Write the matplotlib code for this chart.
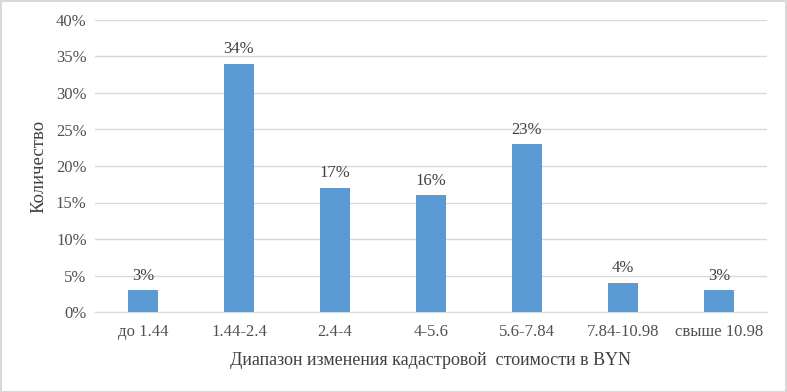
import matplotlib
matplotlib.use("Agg")
import matplotlib.pyplot as plt
from matplotlib.patches import Rectangle

categories = ["до 1.44", "1.44-2.4", "2.4-4", "4-5.6", "5.6-7.84", "7.84-10.98", "свыше 10.98"]
values = [3, 34, 17, 16, 23, 4, 3]
yticks = [0, 5, 10, 15, 20, 25, 30, 35, 40]

plt.rcParams['font.family'] = ['Liberation Serif', 'DejaVu Serif']

fig = plt.figure(figsize=(7.87, 3.92), dpi=100)
ax = fig.add_axes([95/787, 1 - 312/392, (767-95)/787, (312-20)/392])

x = list(range(len(categories)))
bars = ax.bar(x, values, width=0.32, color="#5B9BD5", zorder=3)
for xi, v in zip(x, values):
    ax.text(xi, v + 0.9, f"{v}%", ha="center", va="bottom", fontsize=12, color="#404040")

ax.set_xlim(-0.5, len(categories) - 0.5)
ax.set_ylim(0, 40)
ax.set_yticks(yticks)
ax.set_yticklabels([f"{t}%" for t in yticks])
ax.set_xticks(x)
ax.set_xticklabels(categories)
ax.yaxis.grid(True, color="#D9D9D9", linewidth=1, zorder=0)
for s in ["top", "right", "left"]:
    ax.spines[s].set_visible(False)
ax.spines["bottom"].set_color("#D9D9D9")
ax.tick_params(axis="both", length=0, labelsize=12, labelcolor="#505050")
ax.tick_params(axis="x", pad=9)
ax.tick_params(axis="y", pad=6)
ax.set_xlabel("Диапазон изменения кадастровой  стоимости в BYN", fontsize=13, color="#404040", labelpad=8)
ax.set_ylabel("Количество", fontsize=13.5, color="#404040", labelpad=6)

fig.patches.append(Rectangle((0.5/787, 0.5/392), 1 - 1.5/787, 1 - 1.5/392, transform=fig.transFigure,
                             fill=False, edgecolor="#D9D9D9", linewidth=1.5))

fig.savefig("out.png", dpi=100)
